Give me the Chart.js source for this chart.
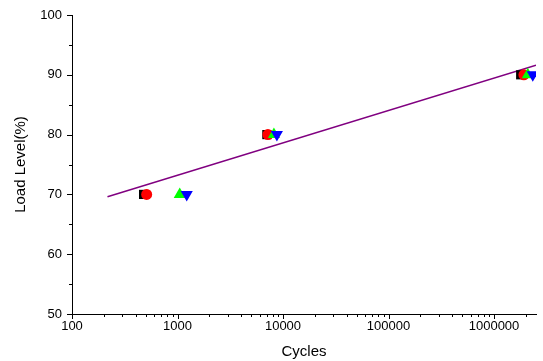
<!DOCTYPE html>
<html>
<head>
<meta charset="utf-8">
<script src="https://cdn.jsdelivr.net/npm/chart.js@4"></script>
<style>
  html, body { margin: 0; padding: 0; background: #fff; }
  #wrap { width: 543px; height: 361px; }
</style>
</head>
<body>
<div id="wrap"><canvas id="c"></canvas></div>
<script>
// data
const squareCycles = [477, 7030, 1790000];
const circleCycles = [510, 7190, 1920000];
const upCycles = [1050, 8200, 2090000];
const downCycles = [1223, 8750, 2330000];
const loadLevels = [70, 80, 90];
const fitCycles = [217, 2500000];
const fitLoads = [69.6, 91.6];
const xMajor = [100, 1000, 10000, 100000, 1000000];

const pts = (xs, ys) => xs.map((x, i) => ({ x, y: ys[i] }));

// log ticks 100..2e6, labels only on the decades
const xTickValues = [];
for (let p = 100; p <= 1000000; p *= 10) {
  for (let m = 1; m <= 9; m++) {
    if (p * m <= 2500000) xTickValues.push(p * m);
  }
}

// outward tick marks, long for major and short for minor
const tickMarks = {
  id: 'tickMarks',
  afterDraw(chart) {
    const { ctx, scales: { x, y } } = chart;
    ctx.save();
    ctx.strokeStyle = '#000';
    ctx.lineWidth = 1;
    ctx.beginPath();
    xTickValues.forEach(v => {
      const px = Math.round(x.getPixelForValue(v)) + 0.5;
      const len = xMajor.includes(v) ? 5 : 3;
      ctx.moveTo(px, y.bottom);
      ctx.lineTo(px, y.bottom + len);
    });
    for (let v = 50; v <= 100; v += 5) {
      const py = Math.round(y.getPixelForValue(v)) + 0.5;
      const len = v % 10 === 0 ? 5 : 3;
      ctx.moveTo(x.left, py);
      ctx.lineTo(x.left - len, py);
    }
    ctx.stroke();
    ctx.restore();
  }
};

const marker = (label, data, style, color, radius, rotation, order) => ({
  type: 'scatter', label, data, order,
  pointStyle: style, pointRotation: rotation, pointRadius: radius,
  backgroundColor: color, borderColor: color, borderWidth: 0
});

new Chart(document.getElementById('c'), {
  data: {
    datasets: [
      marker('Square', pts(squareCycles, loadLevels), 'rect', '#000000', 6.5, 0, 4),
      marker('Circle', pts(circleCycles, loadLevels), 'circle', '#ff0000', 5.5, 0, 3),
      marker('Up', pts(upCycles, loadLevels), 'triangle', '#00ff00', 7, 0, 2),
      marker('Down', pts(downCycles, loadLevels), 'triangle', '#0000ff', 7, 180, 1),
      {
        type: 'line', label: 'Fit', data: pts(fitCycles, fitLoads), order: 5,
        borderColor: '#800080', borderWidth: 1.5, pointRadius: 0, fill: false
      }
    ]
  },
  options: {
    responsive: true,
    maintainAspectRatio: false,
    animation: false,
    layout: { padding: { top: 15, right: 6, left: 0, bottom: 0 } },
    plugins: { legend: { display: false }, tooltip: { enabled: false } },
    scales: {
      x: {
        type: 'logarithmic', min: 100, max: 2500000,
        grid: { display: false, drawTicks: false, tickLength: 0 },
        border: { display: true, color: '#000', width: 1 },
        afterBuildTicks: s => { s.ticks = xTickValues.map(v => ({ value: v, major: xMajor.includes(v) })); },
        ticks: {
          autoSkip: false, maxRotation: 0, padding: 5, color: '#000',
          font: { family: 'Liberation Sans', size: 13 },
          callback: v => xMajor.includes(v) ? String(v) : ''
        },
        title: { display: true, text: 'Cycles', color: '#000', font: { family: 'Liberation Sans', size: 15 }, padding: { top: 4, bottom: 0 } },
        afterFit: s => { s.height = 47; s.paddingLeft = 0; s.paddingRight = 0; }
      },
      y: {
        min: 50, max: 100,
        grid: { display: false, drawTicks: false, tickLength: 0 },
        border: { display: true, color: '#000', width: 1 },
        ticks: {
          stepSize: 5, padding: 10, color: '#000',
          font: { family: 'Liberation Sans', size: 13 },
          callback: v => v % 10 === 0 ? String(v) : ''
        },
        title: { display: true, text: 'Load Level(%)', color: '#000', font: { family: 'Liberation Sans', size: 15 }, padding: { top: 12, bottom: 0 } },
        afterFit: s => { s.width = 72; s.paddingTop = 0; s.paddingBottom = 0; }
      }
    }
  },
  plugins: [tickMarks]
});
</script>
</body>
</html>
